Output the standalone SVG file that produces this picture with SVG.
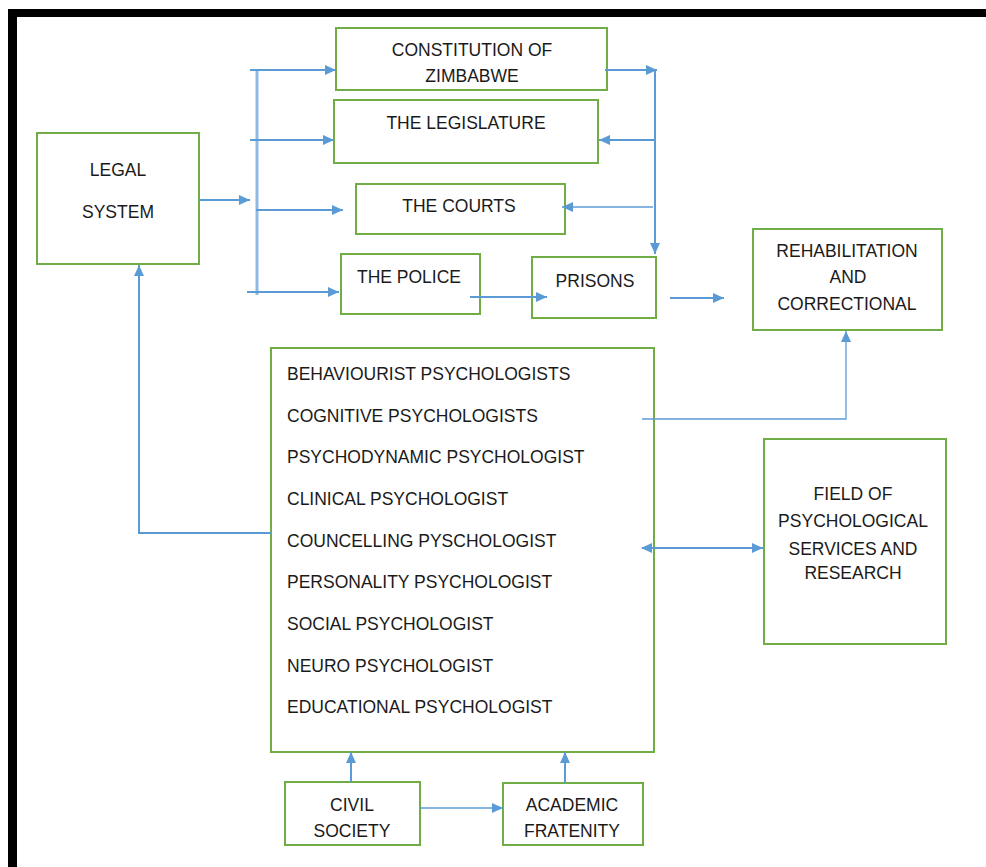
<svg xmlns="http://www.w3.org/2000/svg" width="986" height="867" viewBox="0 0 986 867">
<style>
.box{fill:#fff;stroke:#70AD47;stroke-width:2}
.t{font-family:"Liberation Sans",Arial,sans-serif;font-size:17.5px;fill:#1a1a1a;text-anchor:middle}
.tl{font-family:"Liberation Sans",Arial,sans-serif;font-size:17.5px;fill:#1a1a1a}
.c{fill:none;stroke:#5B9BD5;stroke-width:2}
.thin{fill:none;stroke:#5B9BD5;stroke-width:1.3}
</style>
<defs>
<marker id="ah" markerUnits="userSpaceOnUse" markerWidth="12" markerHeight="10" refX="11" refY="5" orient="auto">
<path d="M0,0 L11,5 L0,10 Z" fill="#5B9BD5"/>
</marker>
<marker id="as" markerUnits="userSpaceOnUse" markerWidth="12" markerHeight="10" refX="1" refY="5" orient="auto">
<path d="M11,0 L0,5 L11,10 Z" fill="#5B9BD5"/>
</marker>
</defs>
<rect width="986" height="867" fill="#fff"/>
<rect x="8" y="9" width="978" height="8" fill="#000"/>
<rect x="8" y="9" width="9" height="858" fill="#000"/>

<g id="legal-system">
<rect class="box" x="37" y="133" width="162" height="131"/>
<text class="t" x="118" y="176">LEGAL</text>
<text class="t" x="118" y="218">SYSTEM</text>
</g>
<g id="constitution">
<rect class="box" x="336" y="28" width="271" height="62"/>
<text class="t" x="472" y="56">CONSTITUTION OF</text>
<text class="t" x="472" y="82">ZIMBABWE</text>
</g>
<g id="legislature">
<rect class="box" x="334" y="100" width="264" height="63"/>
<text class="t" x="466" y="129">THE LEGISLATURE</text>
</g>
<g id="courts">
<rect class="box" x="356" y="184" width="209" height="50"/>
<text class="t" x="459" y="212">THE COURTS</text>
</g>
<g id="police">
<rect class="box" x="341" y="254" width="139" height="60"/>
<text class="t" x="409" y="283">THE POLICE</text>
</g>
<g id="prisons">
<rect class="box" x="532" y="257" width="124" height="61"/>
<text class="t" x="595" y="287">PRISONS</text>
</g>
<g id="rehabilitation">
<rect class="box" x="753" y="229" width="189" height="101"/>
<text class="t" x="847" y="257">REHABILITATION</text>
<text class="t" x="848" y="283">AND</text>
<text class="t" x="847" y="310">CORRECTIONAL</text>
</g>
<g id="psychologists">
<rect class="box" x="271" y="348" width="383" height="404"/>
<text class="tl" x="287" y="380">BEHAVIOURIST PSYCHOLOGISTS</text>
<text class="tl" x="287" y="421.7">COGNITIVE PSYCHOLOGISTS</text>
<text class="tl" x="287" y="463.3">PSYCHODYNAMIC PSYCHOLOGIST</text>
<text class="tl" x="287" y="505">CLINICAL PSYCHOLOGIST</text>
<text class="tl" x="287" y="546.7">COUNCELLING PYSCHOLOGIST</text>
<text class="tl" x="287" y="588.3">PERSONALITY PSYCHOLOGIST</text>
<text class="tl" x="287" y="630">SOCIAL PSYCHOLOGIST</text>
<text class="tl" x="287" y="671.7">NEURO PSYCHOLOGIST</text>
<text class="tl" x="287" y="713">EDUCATIONAL PSYCHOLOGIST</text>
</g>
<g id="field">
<rect class="box" x="764" y="439" width="182" height="205"/>
<text class="t" x="853" y="500">FIELD OF</text>
<text class="t" x="853" y="527">PSYCHOLOGICAL</text>
<text class="t" x="853" y="555">SERVICES AND</text>
<text class="t" x="853" y="579">RESEARCH</text>
</g>
<g id="civil-society">
<rect class="box" x="285" y="782" width="135" height="63"/>
<text class="t" x="352" y="811">CIVIL</text>
<text class="t" x="352" y="837">SOCIETY</text>
</g>
<g id="academic">
<rect class="box" x="503" y="783" width="140" height="62"/>
<text class="t" x="572" y="811">ACADEMIC</text>
<text class="t" x="572" y="837">FRATENITY</text>
</g>

<g id="connectors">
<path class="c" d="M199,200 H250" marker-end="url(#ah)"/>
<path d="M257,70 V295" fill="none" stroke="#8DB9E3" stroke-width="3"/>
<path class="c" d="M250,70 H336" marker-end="url(#ah)"/>
<path class="c" d="M250,140 H334" marker-end="url(#ah)"/>
<path class="c" d="M256,210 H343" marker-end="url(#ah)"/>
<path class="c" d="M247,292 H339" marker-end="url(#ah)"/>
<path class="c" d="M605,70 H657" marker-end="url(#ah)"/>
<path class="c" d="M655,70 V254" marker-end="url(#ah)"/>
<path class="c" d="M655,140 H599" marker-end="url(#ah)"/>
<path class="thin" d="M653,207 H562" marker-end="url(#ah)"/>
<path class="c" d="M470,297 H547" marker-end="url(#ah)"/>
<path class="c" d="M670,298 H724" marker-end="url(#ah)"/>
<path class="thin" d="M642,419 H846 V331" marker-end="url(#ah)"/>
<path class="c" d="M271,533 H139 V265" marker-end="url(#ah)"/>
<path class="c" d="M642,548 H763" marker-start="url(#as)" marker-end="url(#ah)"/>
<path class="c" d="M351,782 V752" marker-end="url(#ah)"/>
<path class="c" d="M565,783 V752" marker-end="url(#ah)"/>
<path class="thin" d="M420,808 H503" marker-end="url(#ah)"/>
</g>
</svg>
